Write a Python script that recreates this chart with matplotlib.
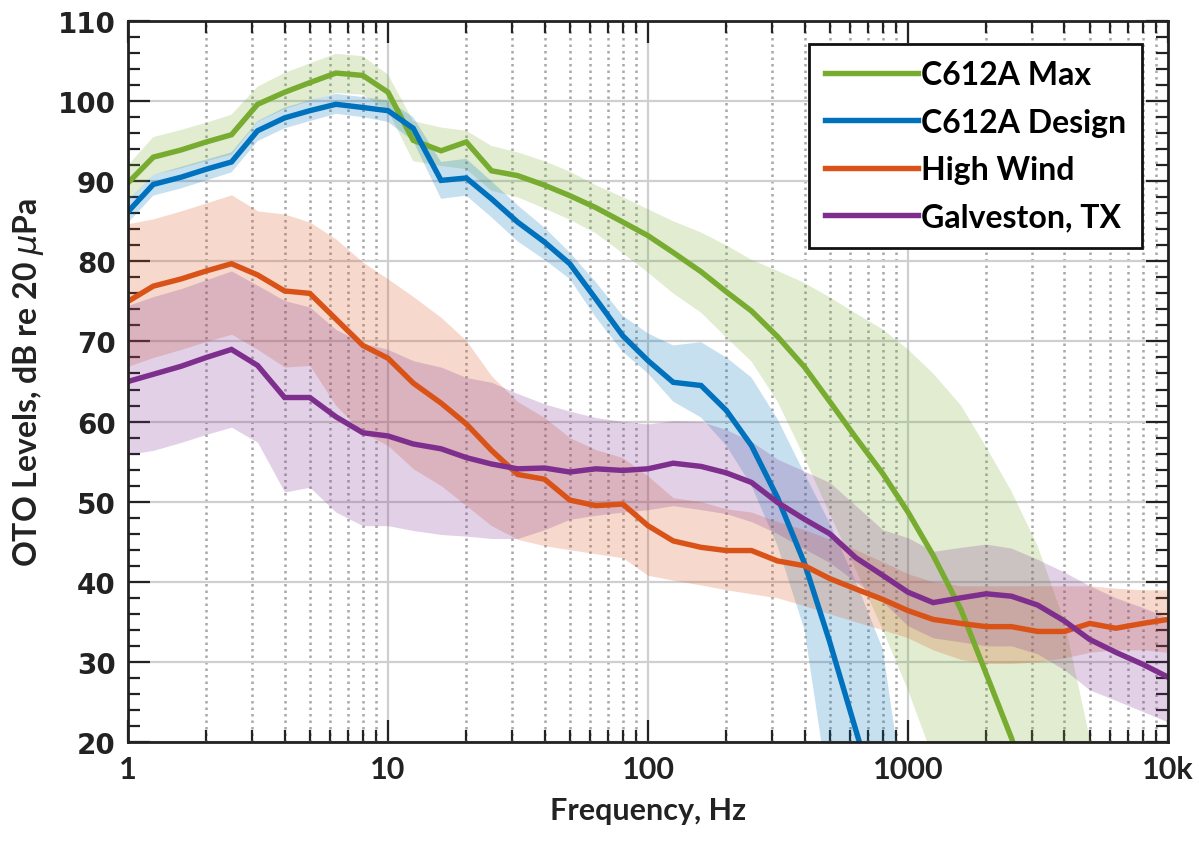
import numpy as np
import matplotlib
matplotlib.use("Agg")
import matplotlib.pyplot as plt
from matplotlib.ticker import FixedLocator, FuncFormatter, MultipleLocator, NullFormatter

# one-third octave band centre frequencies, Hz
freq = [1, 1.25, 1.6, 2, 2.5, 3.15, 4, 5, 6.3, 8,
        10, 12.5, 16, 20, 25, 31.5, 40, 50, 63, 80,
        100, 125, 160, 200, 250, 315, 400, 500, 630, 800,
        1000, 1250, 1600, 2000, 2500, 3150, 4000, 5000, 6300, 8000, 10000]

# C612A Max: level and spread
max_lvl = [89.8, 93.0, 93.9, 94.9, 95.8, 99.6, 101.1, 102.3, 103.5, 103.2,
           101.1, 95.1, 93.8, 94.9, 91.3, 90.7, 89.5, 88.2, 86.7, 84.9,
           83.2, 81.1, 78.7, 76.2, 73.8, 70.6, 66.8, 62.5, 58.0, 53.5,
           48.7, 43.3, 36.5, 28.5, 20.5, 11.0, 0.0, -12.0, -25.0, -40.0, -55.0]
max_hi = [92.0, 95.5, 96.4, 97.3, 98.3, 101.8, 103.5, 104.7, 105.9, 105.6,
          103.3, 97.5, 96.7, 96.3, 94.4, 93.6, 92.5, 91.2, 89.5, 88.0,
          86.5, 85.0, 83.6, 82.0, 80.2, 78.8, 77.3, 75.5, 73.5, 71.5,
          69.0, 66.0, 62.0, 56.8, 51.3, 44.5, 35.0, 20.5, 5.0, -10.0, -25.0]
max_lo = [87.5, 90.8, 91.6, 92.5, 93.3, 97.4, 99.0, 100.0, 101.0, 100.8,
          98.8, 92.5, 91.9, 91.5, 88.8, 88.0, 86.6, 85.2, 83.5, 81.0,
          78.6, 76.0, 73.6, 70.5, 67.5, 62.5, 55.5, 48.5, 41.5, 34.0,
          26.5, 18.0, 9.0, 0.0, -10.0, -20.0, -30.0, -40.0, -50.0, -60.0, -70.0]

# C612A Design
des_lvl = [86.2, 89.6, 90.5, 91.5, 92.4, 96.3, 97.9, 98.8, 99.6, 99.2,
           98.8, 96.6, 90.1, 90.4, 87.8, 84.9, 82.4, 79.7, 75.3, 70.7,
           67.6, 64.9, 64.5, 61.4, 57.0, 50.5, 42.3, 32.5, 21.5, 10.0,
           -2.0, -15.0, -28.0, -40.0, -52.0, -64.0, -76.0, -88.0, -100.0, -112.0, -124.0]
des_hi = [87.6, 90.8, 91.8, 92.7, 93.6, 97.5, 99.2, 100.1, 100.9, 100.5,
          100.1, 98.0, 92.4, 92.8, 90.0, 87.0, 84.2, 81.1, 77.4, 73.2,
          71.0, 69.5, 69.9, 68.0, 65.5, 60.3, 53.5, 47.3, 40.0, 31.6,
          10.0, -5.0, -20.0, -35.0, -50.0, -65.0, -80.0, -95.0, -110.0, -125.0, -140.0]
des_lo = [84.8, 88.2, 89.1, 90.1, 91.1, 95.0, 96.6, 97.5, 98.4, 98.0,
          97.4, 95.0, 87.8, 88.2, 85.5, 82.5, 80.2, 77.8, 73.0, 68.7,
          66.0, 62.5, 60.5, 57.0, 52.0, 44.5, 34.0, 13.0, 0.0, -15.0,
          -30.0, -45.0, -60.0, -75.0, -90.0, -105.0, -120.0, -135.0, -150.0, -165.0, -180.0]

# High Wind
wind_lvl = [75.0, 76.9, 77.8, 78.8, 79.7, 78.3, 76.3, 76.0, 72.8, 69.5,
            67.9, 64.8, 62.3, 59.7, 56.4, 53.4, 52.8, 50.2, 49.5, 49.7,
            47.0, 45.1, 44.3, 43.9, 43.9, 42.6, 42.0, 40.4, 39.1, 37.8,
            36.4, 35.3, 34.8, 34.4, 34.4, 33.8, 33.8, 34.8, 34.2, 34.8, 35.3]
wind_hi = [84.7, 85.3, 86.3, 87.3, 88.3, 86.3, 85.9, 84.9, 82.8, 79.9,
           77.8, 75.6, 73.0, 70.1, 65.7, 62.5, 60.5, 58.0, 56.5, 55.5,
           53.2, 50.5, 50.0, 49.1, 48.7, 47.5, 46.5, 45.3, 44.0, 42.5,
           41.0, 40.0, 39.5, 39.5, 39.5, 39.5, 39.5, 39.5, 39.2, 39.0, 39.0]
wind_lo = [66.9, 68.0, 69.0, 70.0, 70.9, 69.0, 66.8, 67.0, 62.0, 58.6,
           57.0, 54.1, 52.0, 49.5, 47.0, 45.3, 44.5, 44.0, 43.5, 43.0,
           40.8, 40.2, 39.6, 39.0, 38.5, 38.0, 37.0, 36.0, 35.0, 34.0,
           33.0, 31.5, 30.3, 29.8, 29.8, 30.0, 30.5, 31.2, 31.5, 31.5, 31.2]

# Galveston, TX
gal_lvl = [65.0, 65.9, 66.9, 68.0, 69.0, 67.0, 63.0, 63.0, 60.6, 58.6,
           58.2, 57.2, 56.6, 55.5, 54.7, 54.1, 54.2, 53.7, 54.1, 53.9,
           54.1, 54.8, 54.4, 53.6, 52.4, 49.9, 47.8, 46.0, 43.0, 40.8,
           38.7, 37.4, 38.0, 38.5, 38.2, 37.1, 35.1, 32.8, 31.2, 29.7, 28.1]
gal_hi = [74.5, 75.6, 76.6, 77.7, 78.8, 77.0, 75.1, 74.3, 71.5, 69.8,
          69.0, 67.6, 66.8, 65.5, 64.9, 63.5, 62.2, 61.3, 60.5, 60.0,
          59.7, 60.1, 60.0, 59.0, 57.5, 55.3, 53.8, 52.4, 49.5, 46.5,
          45.5, 43.8, 44.3, 44.7, 44.2, 42.8, 41.2, 39.5, 38.0, 36.8, 35.5]
gal_lo = [55.9, 56.4, 57.4, 58.4, 59.3, 57.4, 51.2, 51.8, 48.7, 47.0,
          47.0, 46.4, 45.9, 45.7, 45.4, 45.4, 46.5, 47.8, 48.3, 48.7,
          49.0, 49.5, 49.0, 48.5, 47.5, 46.0, 44.1, 42.4, 40.0, 37.5,
          34.5, 33.0, 32.5, 32.0, 32.0, 31.0, 29.0, 26.5, 25.2, 23.8, 22.5]

labels = ["C612A Max", "C612A Design", "High Wind", "Galveston, TX"]
colors = ["#77AC30", "#0072BD", "#D95319", "#7E2F8E"]
series = [(max_lvl, max_lo, max_hi),
          (des_lvl, des_lo, des_hi),
          (wind_lvl, wind_lo, wind_hi),
          (gal_lvl, gal_lo, gal_hi)]

lab_font = ["Lato", "DejaVu Sans"]
ink = "#222222"

fig = plt.figure(figsize=(11.99, 8.45), dpi=100)
ax = fig.add_axes([0.1068, 0.1207, 0.8673, 0.8533])

# shaded spread first, then the level curves on top
for (lvl, lo, hi), c in zip(series, colors):
    ax.fill_between(freq, lo, hi, color=c, alpha=0.22, linewidth=0)
for (lvl, lo, hi), c, lab in zip(series, colors, labels):
    ax.plot(freq, lvl, color=c, lw=3.9, label=lab, solid_joinstyle="miter")

ax.set_xscale("log")
ax.set_xlim(1, 10000)
ax.set_ylim(20, 110)

ax.xaxis.set_major_locator(FixedLocator([1, 10, 100, 1000, 10000]))
ax.xaxis.set_minor_locator(FixedLocator([m * 10 ** d for d in range(4) for m in range(2, 10)]))
ax.xaxis.set_major_formatter(FuncFormatter(lambda v, p: "10k" if v >= 10000 else f"{v:g}"))
ax.xaxis.set_minor_formatter(NullFormatter())
ax.yaxis.set_major_locator(MultipleLocator(10))
ax.yaxis.set_minor_locator(MultipleLocator(2))

ax.set_axisbelow(True)
ax.grid(True, which="major", color="#cfcfcf", lw=1.6, ls="-")
ax.grid(True, which="minor", axis="x", color="#a8a8a8", lw=1.8, ls=(0, (1.0, 1.6)))

ax.tick_params(which="both", direction="in", top=True, right=True, width=1.6, color=ink)
ax.tick_params(which="major", length=16)
ax.tick_params(which="minor", length=8.5)
ax.tick_params(axis="y", pad=9)
ax.tick_params(axis="x", pad=9)
for s in ax.spines.values():
    s.set_linewidth(2.0)
    s.set_color(ink)

for t in ax.get_yticklabels():
    t.set_fontfamily("DejaVu Sans")
    t.set_fontweight("bold")
    t.set_fontsize(20)
    t.set_color(ink)
for t in ax.get_xticklabels():
    t.set_fontfamily(lab_font)
    t.set_fontweight("bold")
    t.set_fontsize(22)
    t.set_color(ink)

ax.set_xlabel("Frequency, Hz", family=lab_font, fontweight="bold", fontsize=22,
              color=ink, labelpad=10)
ax.set_ylabel(r"OTO Levels, dB re 20 $\mu$Pa", family=lab_font, fontweight="bold",
              fontsize=23, color=ink, labelpad=8)

leg = ax.legend(loc="upper right", bbox_to_anchor=(0.975, 0.968), borderaxespad=0,
                fancybox=False, framealpha=1, edgecolor="#111111",
                handlelength=2.9, handletextpad=0.1,
                labelspacing=0.58, borderpad=0.5,
                prop={"family": lab_font, "weight": "bold", "size": 23})
leg.get_frame().set_linewidth(2.0)

fig.savefig("out.png", dpi=100)
